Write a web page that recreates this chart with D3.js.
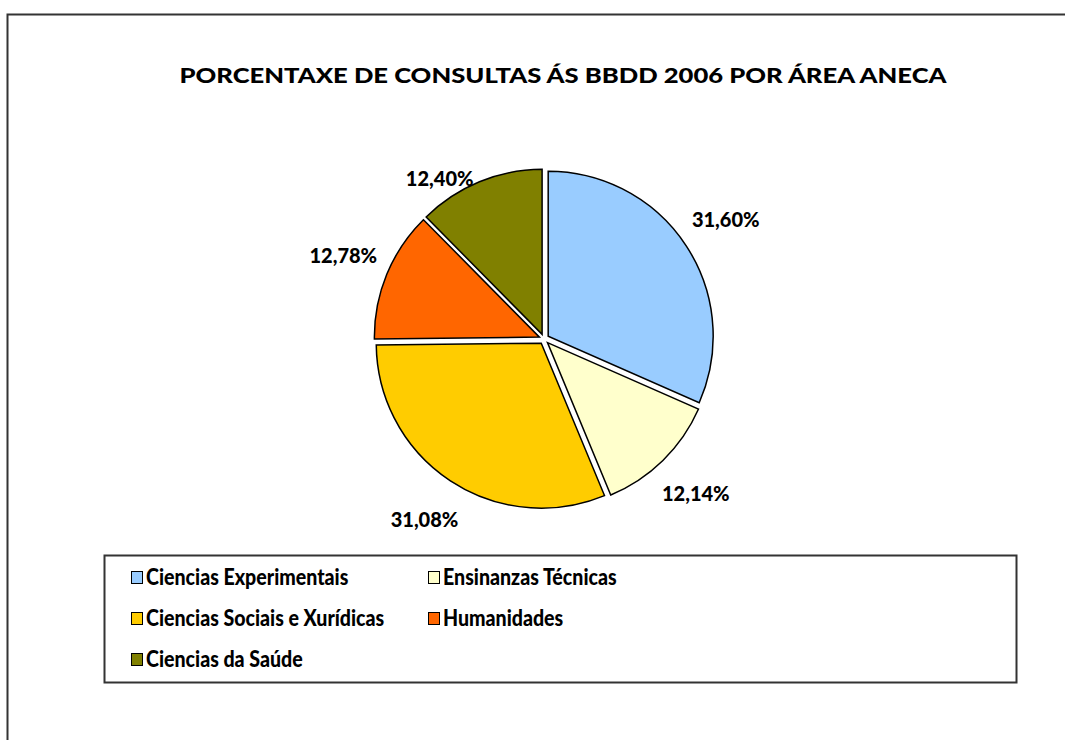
<!DOCTYPE html>
<html>
<head>
<meta charset="utf-8">
<script src="https://cdn.jsdelivr.net/npm/d3@7"></script>
<style>
  body { margin: 0; background: #fff; }
  svg { display: block; font-family: Lato, "DejaVu Sans", sans-serif; font-weight: 900; }
</style>
</head>
<body>
<div id="chart"></div>
<script>
// datos
var areas = ["Ciencias Experimentais", "Ensinanzas Técnicas", "Ciencias Sociais e Xurídicas", "Humanidades", "Ciencias da Saúde"];
var porcentaxes = [31.60, 12.14, 31.08, 12.78, 12.40];
var cores = ["#99CCFF", "#FFFFCC", "#FFCC00", "#FF6600", "#808000"];
var titulo = "PORCENTAXE DE CONSULTAS ÁS BBDD 2006 POR ÁREA ANECA";

var width = 1065, height = 740;
var cx = 544, cy = 339, r = 165, explode = 5, labelR = 217, plotTop = 179;
var escalaX = 0.89; // texto algo máis estreito

var svg = d3.select("#chart").append("svg")
    .attr("width", width)
    .attr("height", height);

// marco exterior
svg.append("path")
    .attr("d", "M7.5," + height + "V14.5H" + width)
    .attr("fill", "none")
    .attr("stroke", "#333")
    .attr("stroke-width", 2);

// título
svg.append("text")
    .attr("x", 563)
    .attr("y", 83)
    .attr("text-anchor", "middle")
    .attr("textLength", 767)
    .attr("lengthAdjust", "spacingAndGlyphs")
    .style("font-size", "21px")
    .text(titulo);

var data = areas.map(function (a, i) { return { area: a, valor: porcentaxes[i], cor: cores[i] }; });

var pie = d3.pie().sort(null).value(function (d) { return d.valor; });
var arc = d3.arc().innerRadius(0).outerRadius(r);
var arcs = pie(data);

var g = svg.append("g").attr("transform", "translate(" + cx + "," + cy + ")");

function medio(d) { return (d.startAngle + d.endAngle) / 2; }

g.selectAll("path.slice")
    .data(arcs)
    .enter().append("path")
    .attr("class", "slice")
    .attr("transform", function (d) {
        var a = medio(d);
        return "translate(" + (explode * Math.sin(a)) + "," + (-explode * Math.cos(a)) + ")";
    })
    .attr("d", arc)
    .attr("fill", function (d) { return d.data.cor; })
    .attr("stroke", "#000")
    .attr("stroke-width", 1.5);

// etiquetas de porcentaxe
var fmt = function (v) { return v.toFixed(2).replace(".", ",") + "%"; };
function posEtiqueta(d) {
    var a = medio(d);
    var x = labelR * Math.sin(a), y = -labelR * Math.cos(a);
    if (y < plotTop - cy) {
        // non saír da área de trazado: baixar e apartar cara a fóra
        y = plotTop - cy;
        var rr = r + 26;
        x = (Math.sin(a) < 0 ? -1 : 1) * Math.sqrt(Math.max(0, rr * rr - y * y));
    }
    return [x, y];
}
g.selectAll("text.lbl")
    .data(arcs)
    .enter().append("text")
    .attr("class", "lbl")
    .attr("x", function (d) { return posEtiqueta(d)[0]; })
    .attr("y", function (d) { return posEtiqueta(d)[1]; })
    .attr("dy", "0.35em")
    .attr("text-anchor", "middle")
    .style("font-size", "20px")
    .text(function (d) { return fmt(d.data.valor); });

// lenda
svg.append("rect")
    .attr("x", 104.5).attr("y", 555.5)
    .attr("width", 912).attr("height", 127)
    .attr("fill", "#fff")
    .attr("stroke", "#333")
    .attr("stroke-width", 2);

var col = d3.scalePoint().domain([0, 1]).range([131, 428]);
var row = d3.scalePoint().domain([0, 1, 2]).range([577, 659]);

var items = svg.selectAll("g.leg")
    .data(data)
    .enter().append("g")
    .attr("class", "leg")
    .attr("transform", function (d, i) {
        return "translate(" + col(i % 2) + "," + row(Math.floor(i / 2)) + ")";
    });

items.append("rect")
    .attr("x", 0.5).attr("y", -5.5)
    .attr("width", 11).attr("height", 12)
    .attr("fill", function (d) { return d.cor; })
    .attr("stroke", "#000")
    .attr("stroke-width", 1);

items.append("text")
    .attr("transform", "translate(15,0) scale(" + escalaX + ",1)")
    .attr("dy", "0.35em")
    .style("font-size", "22px")
    .text(function (d) { return d.area; });
</script>
</body>
</html>
